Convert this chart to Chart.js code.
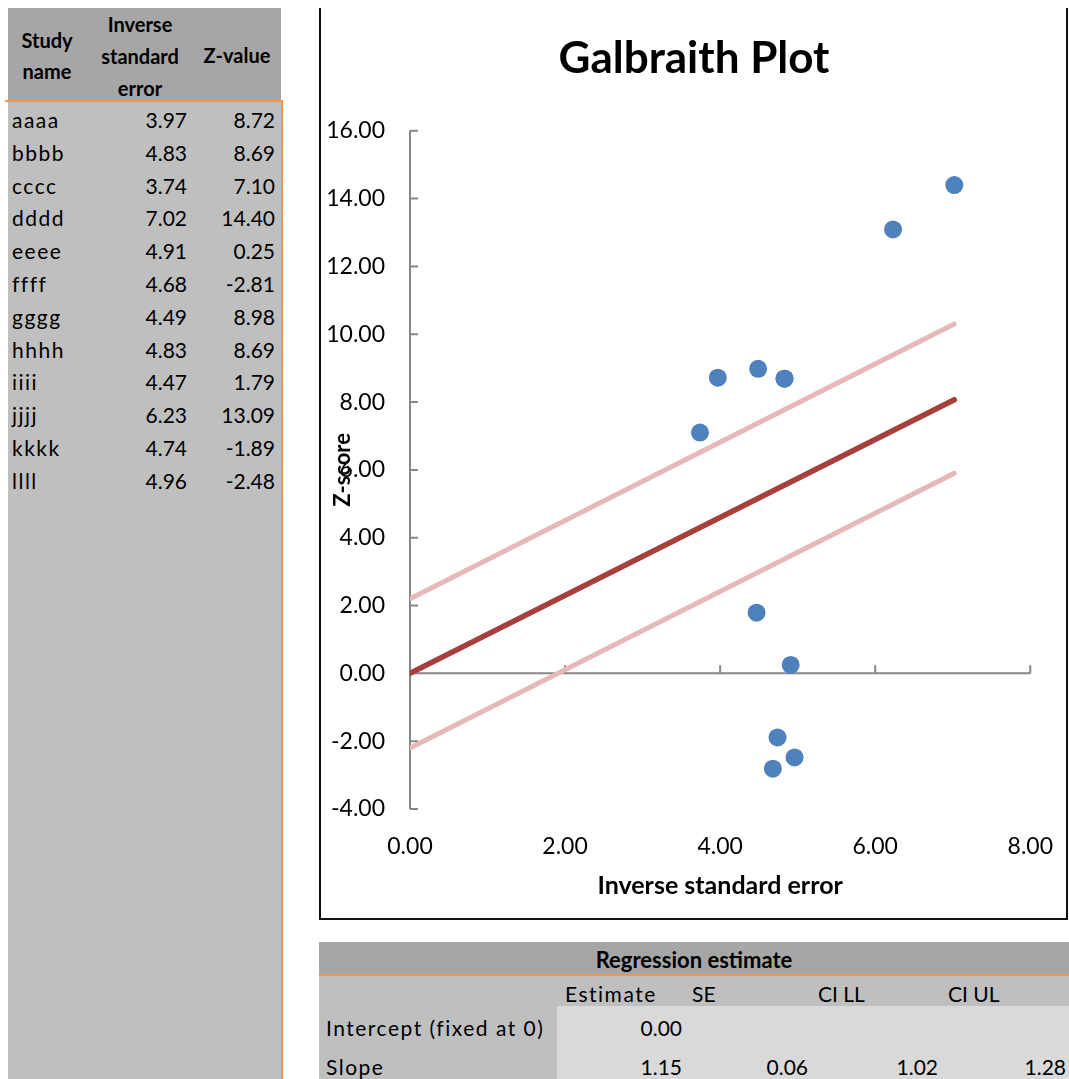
<!DOCTYPE html>
<html>
<head>
<meta charset="utf-8">
<title>Galbraith Plot</title>
<script src="https://cdn.jsdelivr.net/npm/chart.js@4.4.1/dist/chart.umd.min.js"></script>
<style>
    body { margin: 0; background: #fff; font-family: Lato, sans-serif; color: #000; }
    #page { position: relative; width: 1069px; height: 1079px; overflow: hidden; }
    .box { position: absolute; }
    .txt { position: absolute; white-space: nowrap; line-height: 1; }
    #chartBox { position: absolute; left: 319px; top: 8px; width: 749px; height: 912px;
        box-sizing: border-box; border: 2px solid #111; border-top: none; }
    #galbraith { position: absolute; left: 321px; top: 0; }
</style>
</head>
<body>
<div id="page">
    <div id="chartBox"></div>
    <canvas id="galbraith" width="746" height="917"></canvas>
</div>
<script>
// Study data (left table and scatter points)
const studyNames = ['aaaa', 'bbbb', 'cccc', 'dddd', 'eeee', 'ffff', 'gggg', 'hhhh', 'iiii', 'jjjj', 'kkkk', 'llll'];
const invSE = [3.97, 4.83, 3.74, 7.02, 4.91, 4.68, 4.49, 4.83, 4.47, 6.23, 4.74, 4.96];
const zValues = [8.72, 8.69, 7.10, 14.40, 0.25, -2.81, 8.98, 8.69, 1.79, 13.09, -1.89, -2.48];

// Regression line and its band (two end points each)
const lineX = [0, 7.02];
const fitZ = [0, 8.07];
const upperZ = [2.2, 10.3];
const lowerZ = [-2.2, 5.9];

// Axis ticks
const xTicks = [0, 2, 4, 6, 8];
const yTicks = [-4, -2, 0, 2, 4, 6, 8, 10, 12, 14, 16];

// Regression estimate table
const regHeaders = ['Estimate', 'SE', 'CI LL', 'CI UL'];
const regRowLabels = ['Intercept (fixed at 0)', 'Slope'];
const regValues = [['0.00'], ['1.15', '0.06', '1.02', '1.28']];

const page = document.getElementById('page');

function addBox(left, top, width, height, color) {
    const d = document.createElement('div');
    d.className = 'box';
    Object.assign(d.style, { left: left + 'px', top: top + 'px', width: width + 'px', height: height + 'px', background: color });
    page.appendChild(d);
}

// y is the vertical centre; align is left / center / right relative to x
function addText(text, x, y, size, bold, align, spacing) {
    const d = document.createElement('div');
    d.className = 'txt';
    d.textContent = text;
    d.style.fontSize = size + 'px';
    d.style.fontWeight = bold ? 'bold' : 'normal';
    d.style.letterSpacing = (spacing || 0) + 'px';
    d.style.top = y + 'px';
    d.style.left = x + 'px';
    const tx = align === 'center' ? '-50%' : align === 'right' ? '-100%' : '0';
    d.style.transform = `translate(${tx}, -50%)`;
    page.appendChild(d);
}

// ---- Left table ----
addBox(8, 8, 273, 92, '#a6a6a6');
addBox(8, 102, 273, 977, '#bfbfbf');
addBox(5, 100, 278, 2, '#f79646');
addBox(281, 100, 2, 979, '#f79646');

addText('Study', 47, 40, 20, true, 'center');
addText('name', 47, 71, 20, true, 'center');
addText('Inverse', 140, 24, 20, true, 'center');
addText('standard', 140, 56, 20, true, 'center');
addText('error', 140, 88, 20, true, 'center');
addText('Z-value', 237, 55, 20, true, 'center');

studyNames.forEach((name, i) => {
    const y = 119 + i * 32.8;
    addText(name, 12, y, 21, false, 'left', 1.5);
    addText(invSE[i].toFixed(2), 187, y, 21, false, 'right');
    addText(zValues[i].toFixed(2), 275, y, 21, false, 'right');
});

// ---- Regression table ----
addBox(319, 942, 750, 32, '#a6a6a6');
addBox(319, 974, 750, 2, '#f79646');
addBox(319, 976, 750, 30, '#bfbfbf');
addBox(319, 1006, 238, 73, '#bfbfbf');
addBox(557, 1006, 512, 73, '#d9d9d9');

addText('Regression estimate', 694, 960, 22, true, 'center');
const headerX = [565, 692, 818, 948];
regHeaders.forEach((h, i) => addText(h, headerX[i], 993, 21, false, 'left', i === 0 ? 1.5 : 0));
const valueX = [682, 808, 938, 1066];
const rowY = [1027, 1066];
regRowLabels.forEach((label, r) => {
    addText(label, 326, rowY[r], 21, false, 'left', 1.5);
    regValues[r].forEach((v, c) => addText(v, valueX[c], rowY[r], 21, false, 'right'));
});

// ---- Chart ----
const points = invSE.map((x, i) => ({ x: x, y: zValues[i] }));
const toLine = zs => lineX.map((x, i) => ({ x: x, y: zs[i] }));

// Axis lines crossing at zero with inside tick marks
const crossAxes = {
    id: 'crossAxes',
    beforeDatasetsDraw(chart) {
        const { ctx, chartArea, scales: { x, y } } = chart;
        const x0 = x.getPixelForValue(0);
        const y0 = y.getPixelForValue(0);
        ctx.save();
        ctx.strokeStyle = '#868686';
        ctx.lineWidth = 2;
        ctx.beginPath();
        ctx.moveTo(x0, chartArea.top);
        ctx.lineTo(x0, chartArea.bottom);
        yTicks.forEach(v => {
            const py = y.getPixelForValue(v);
            ctx.moveTo(x0, py);
            ctx.lineTo(x0 + 8, py);
        });
        ctx.moveTo(chartArea.left, y0);
        ctx.lineTo(chartArea.right, y0);
        xTicks.forEach(v => {
            const px = x.getPixelForValue(v);
            ctx.moveTo(px, y0);
            ctx.lineTo(px, y0 - 8);
        });
        ctx.stroke();
        ctx.restore();
    }
};

new Chart(document.getElementById('galbraith'), {
    type: 'scatter',
    data: {
        datasets: [
            {
                label: 'Studies',
                data: points,
                backgroundColor: '#4f81bd',
                borderWidth: 0,
                pointRadius: 9
            },
            {
                label: 'Upper',
                data: toLine(upperZ),
                showLine: true,
                borderColor: '#e6b9b8',
                borderWidth: 5,
                borderCapStyle: 'round',
                pointRadius: 0
            },
            {
                label: 'Lower',
                data: toLine(lowerZ),
                showLine: true,
                borderColor: '#e6b9b8',
                borderWidth: 5,
                borderCapStyle: 'round',
                pointRadius: 0
            },
            {
                label: 'Fit',
                data: toLine(fitZ),
                showLine: true,
                borderColor: '#a5403d',
                borderWidth: 5.5,
                borderCapStyle: 'round',
                pointRadius: 0
            }
        ]
    },
    options: {
        responsive: false,
        animation: false,
        layout: { padding: 0 },
        plugins: {
            legend: { display: false },
            tooltip: { enabled: false },
            title: {
                display: true,
                text: 'Galbraith Plot',
                color: '#000',
                font: { family: 'Lato', size: 44, weight: 'bold' },
                padding: { top: 32, bottom: 46 }
            }
        },
        scales: {
            x: {
                type: 'linear',
                min: 0,
                max: 8,
                afterBuildTicks: scale => { scale.ticks = xTicks.map(v => ({ value: v })); },
                afterFit: scale => { scale.height = 108; },
                grid: { display: false, drawTicks: true, tickLength: 10 },
                border: { display: false },
                ticks: {
                    color: '#000',
                    padding: 14,
                    font: { family: 'Lato', size: 23 },
                    callback: v => v.toFixed(2)
                },
                title: {
                    display: true,
                    text: 'Inverse standard error',
                    color: '#000',
                    font: { family: 'Lato', size: 25, weight: 'bold' },
                    padding: { top: 0, bottom: 16 }
                }
            },
            y: {
                type: 'linear',
                min: -4,
                max: 16,
                afterBuildTicks: scale => { scale.ticks = yTicks.map(v => ({ value: v })); },
                afterFit: scale => { scale.width = 89; },
                grid: { display: false, drawTicks: false },
                border: { display: false },
                ticks: {
                    color: '#000',
                    padding: 25,
                    font: { family: 'Lato', size: 23 },
                    callback: v => v.toFixed(2)
                },
                title: {
                    display: true,
                    text: 'Z-score',
                    color: '#000',
                    font: { family: 'Lato', size: 22, weight: 'bold' },
                    padding: { top: 9, bottom: 0 }
                }
            }
        }
    },
    plugins: [crossAxes]
});
</script>
</body>
</html>
